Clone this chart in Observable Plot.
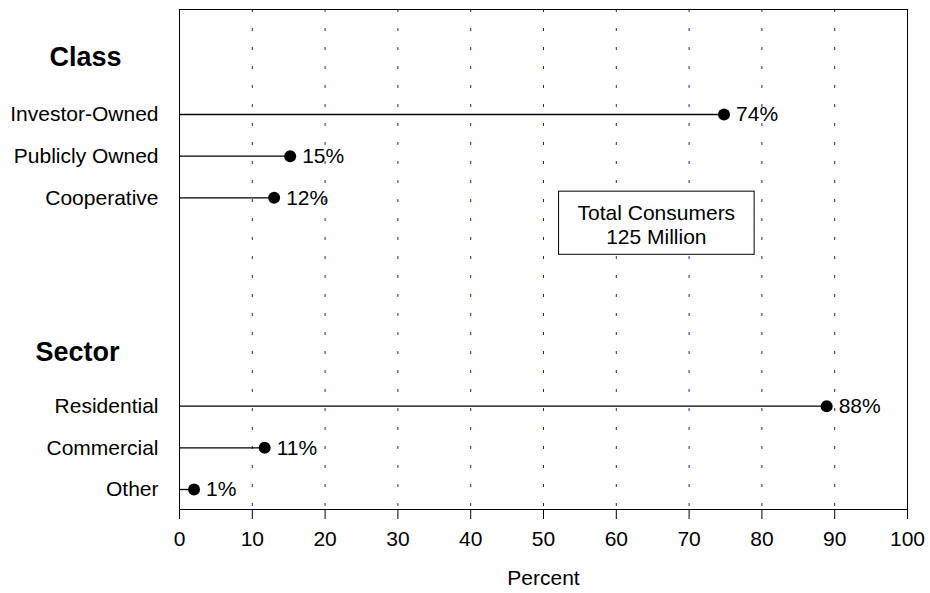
<!DOCTYPE html>
<html>
<head>
<meta charset="utf-8">
<script src="https://cdn.jsdelivr.net/npm/d3@7"></script>
<script src="https://cdn.jsdelivr.net/npm/@observablehq/plot@0.6"></script>
<style>
  html, body { margin: 0; padding: 0; background: #fff; }
  #chart svg { display: block; }
</style>
</head>
<body>
<div id="chart"></div>
<script>
// ---- data ----
const classCategories = ["Investor-Owned", "Publicly Owned", "Cooperative"];
const classValues = [74.8, 15.2, 13.0];
const classLabels = ["74%", "15%", "12%"];
const sectorCategories = ["Residential", "Commercial", "Other"];
const sectorValues = [88.9, 11.7, 2.0];
const sectorLabels = ["88%", "11%", "1%"];
const spacerRows = ["gap1", "gap2", "gap3", "gap4"];
const groupTitles = ["Class", "Sector"];
const xTicks = [0, 10, 20, 30, 40, 50, 60, 70, 80, 90, 100];
const gridTicks = [10, 20, 30, 40, 50, 60, 70, 80, 90];
const annotationText = "Total Consumers\n125 Million";
const annotationX = 65.5;
const xLabel = "Percent";

// ---- derived tables ----
const rows = [...classCategories, ...spacerRows, ...sectorCategories];
const points = [
  ...classCategories.map((c, i) => ({cat: c, value: classValues[i], label: classLabels[i]})),
  ...sectorCategories.map((c, i) => ({cat: c, value: sectorValues[i], label: sectorLabels[i]}))
];
const realCats = [...classCategories, ...sectorCategories];
const font = "'Liberation Sans', Arial, Helvetica, sans-serif";

const chart = Plot.plot({
  width: 930,
  height: 593,
  marginLeft: 179,
  marginRight: 23,
  marginTop: 9,
  marginBottom: 84,
  style: {fontFamily: font, fontSize: "21px", color: "#000", background: "#fff"},
  x: {domain: [0, 100]},
  y: {type: "point", domain: rows, padding: 0, round: false, insetTop: 105, insetBottom: 20},
  marks: [
    Plot.ruleX(gridTicks, {stroke: "#1f1fa3", strokeWidth: 1, strokeDasharray: "3,16"}),
    Plot.frame({stroke: "#000", strokeWidth: 1}),
    Plot.axisX(xTicks, {
      ticks: xTicks, tickSize: 10, tickPadding: 12, fontSize: 21,
      label: xLabel, labelAnchor: "center", labelArrow: "none", labelOffset: 75
    }),
    Plot.axisY(realCats, {ticks: realCats, tickSize: 0, tickPadding: 21, fontSize: 21, label: null}),
    Plot.ruleY(points, {y: "cat", x1: 0, x2: "value", stroke: "#000", strokeWidth: 1.3}),
    Plot.dot(points, {y: "cat", x: "value", r: 6, fill: "#000", stroke: "none"}),
    Plot.text(points, {y: "cat", x: "value", text: "label", dx: 12, textAnchor: "start", fontSize: 21}),
    Plot.text([groupTitles[0]], {y: () => classCategories[0], frameAnchor: "left", dx: -58, dy: -57,
      textAnchor: "end", text: d => d, fontSize: 27, fontWeight: "bold"}),
    Plot.text([groupTitles[1]], {y: () => sectorCategories[0], frameAnchor: "left", dx: -60, dy: -54,
      textAnchor: "end", text: d => d, fontSize: 27, fontWeight: "bold"}),
    Plot.text([annotationText], {x: () => annotationX, y: () => spacerRows[0], dy: -15,
      text: d => d, textAnchor: "middle", lineAnchor: "middle", lineHeight: 1.15, fontSize: 21,
      className: "annot"})
  ]
});

document.getElementById("chart").appendChild(chart);

// draw a box around the annotation text
const annotG = chart.querySelector("g.annot");
if (annotG) {
  const t = annotG.querySelector("text");
  const bb = t.getBBox();
  const padX = 19, padTop = 10, padBottom = 6;
  const rect = document.createElementNS("http://www.w3.org/2000/svg", "rect");
  rect.setAttribute("x", bb.x - padX);
  rect.setAttribute("y", bb.y - padTop);
  rect.setAttribute("width", bb.width + 2 * padX);
  rect.setAttribute("height", bb.height + padTop + padBottom);
  rect.setAttribute("fill", "#fff");
  rect.setAttribute("stroke", "#000");
  rect.setAttribute("stroke-width", "1");
  const tr = t.getAttribute("transform");
  if (tr) rect.setAttribute("transform", tr);
  annotG.insertBefore(rect, t);
}
</script>
</body>
</html>
